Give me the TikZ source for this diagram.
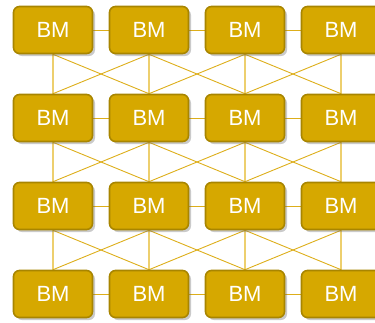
\documentclass[tikz,border=0pt]{standalone}
\usepackage{fontspec}
\setmainfont{Liberation Sans}
\usetikzlibrary{shadows,backgrounds}
\definecolor{bmfill}{HTML}{D6A800}
\definecolor{bmdraw}{HTML}{A88500}
\definecolor{linkc}{HTML}{DDAE1A}
\definecolor{vlinkc}{HTML}{EDCF6E}
\tikzset{
  bm/.style={rectangle, rounded corners=6pt, minimum width=79pt, minimum height=47pt,
    fill=bmfill, draw=bmdraw, line width=1.6pt, text=white, font=\fontsize{22}{24}\selectfont,
    drop shadow={shadow xshift=2.5pt, shadow yshift=-2.5pt, opacity=0.35, fill=black!60}},
  link/.style={draw=linkc, line width=0.9pt},
  vlink/.style={draw=vlinkc, line width=1.1pt}
}
\begin{document}
\begin{tikzpicture}[x=1pt,y=-1pt]
\useasboundingbox (0,0) rectangle (375,322);
\clip (0,0) rectangle (375,322);
\foreach \r/\y in {1/30,2/118,3/206,4/294}{
  \foreach \c/\x in {1/53,2/149,3/245,4/341}{
    \node[bm] (n\r\c) at (\x,\y) {BM};
  }
}
\begin{scope}[on background layer]
\foreach \r in {1,2,3,4}{
  \foreach \c/\d in {1/2,2/3,3/4}{
    \draw[link] (n\r\c.east) -- (n\r\d.west);
  }
}
\foreach \r/\s in {1/2,2/3,3/4}{
  \foreach \c in {1,2,3,4}{
    \draw[vlink] (n\r\c.south) -- (n\s\c.north);
  }
  \foreach \c/\d in {1/2,2/3,3/4}{
    \draw[link] (n\r\c.south) -- (n\s\d.north);
    \draw[link] (n\r\d.south) -- (n\s\c.north);
  }
}
\end{scope}
\end{tikzpicture}
\end{document}
